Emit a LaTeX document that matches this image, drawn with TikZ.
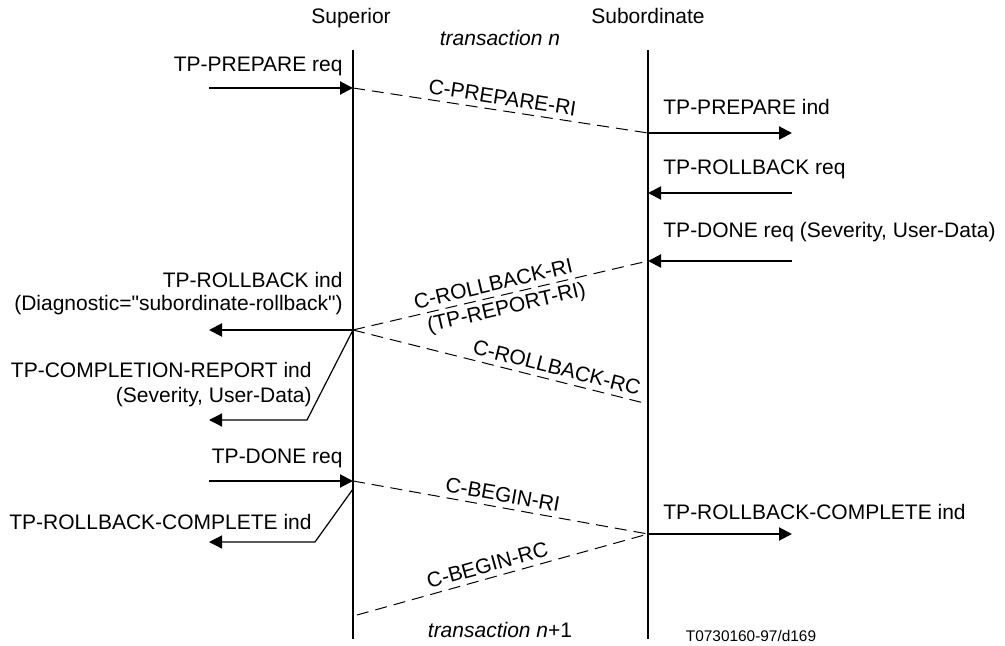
\documentclass[tikz,border=0pt]{standalone}
\usepackage{fontspec}
\newfontfamily\arialf{Liberation Sans}
\usetikzlibrary{arrows.meta}
\begin{document}
\begin{tikzpicture}[x=0.5pt,y=0.5pt,
  lbl/.style={font=\arialf\fontsize{10.5}{12.6}\selectfont, inner sep=0pt},
  small/.style={font=\arialf\fontsize{7.7}{9}\selectfont, inner sep=0pt},
  lifeline/.style={line width=1pt},
  prim/.style={line width=1pt, -{Triangle[length=6.5pt,width=6.5pt]}},
  bent/.style={line width=0.6pt, -{Triangle[length=6.5pt,width=6.5pt]}},
  pdu/.style={line width=0.5pt, dash pattern=on 6pt off 3.5pt},
  pdulbl/.style={lbl, sloped, inner sep=2.6pt}]
\useasboundingbox (0,0) rectangle (1005,-646);
% lifelines
\coordinate (supT) at (353,-50);
\coordinate (supB) at (353,-639);
\coordinate (subT) at (648,-50);
\coordinate (subB) at (648,-639);
\draw[lifeline] (supT) -- (supB);
\draw[lifeline] (subT) -- (subB);
\node[lbl, anchor=base] (supL) at (351,-24) {Superior};
\node[lbl, anchor=base] (subL) at (648,-24) {Subordinate};
\node[lbl, anchor=base] (tn) at (500,-46) {\textit{transaction n}};
\node[lbl, anchor=base] (tn1) at (500,-637) {\textit{transaction n}+1};
\node[small, anchor=base] (ref) at (751,-641) {T0730160-97/d169};

% points on lifelines
\coordinate (s1) at (353,-88);
\coordinate (s2) at (353,-330);
\coordinate (s3) at (353,-481);
\coordinate (s4) at (353,-489);
\coordinate (s5) at (357,-615);
\coordinate (b1) at (648,-133);
\coordinate (b2) at (648,-193);
\coordinate (b3) at (648,-261);
\coordinate (b4) at (648,-404);
\coordinate (b5) at (648,-534);

% free ends
\coordinate (prepS) at (209,-88);
\coordinate (prepE) at (792,-133);
\coordinate (rbS) at (792,-193);
\coordinate (doneS) at (792,-261);
\coordinate (rbiE) at (209,-330);
\coordinate (k1) at (307,-420);
\coordinate (crE) at (209,-420);
\coordinate (dS) at (209,-481);
\coordinate (k2) at (315,-542);
\coordinate (rcE) at (209,-542);
\coordinate (rcsE) at (792,-534);

% TP-PREPARE
\draw[prim] (prepS) -- (s1);
\node[lbl, anchor=base east] (tpprepreq) at (343,-72) {TP-PREPARE req};
\draw[pdu] (s1) -- node[pdulbl, above, pos=0.5] (cprep) {C-PREPARE-RI} (b1);
\draw[prim] (b1) -- (prepE);
\node[lbl, anchor=base west] (tpprepind) at (663,-115) {TP-PREPARE ind};

% TP-ROLLBACK req
\draw[prim] (rbS) -- (b2);
\node[lbl, anchor=base west] (tprbreq) at (663,-175) {TP-ROLLBACK req};

% TP-DONE req (subordinate)
\draw[prim] (doneS) -- (b3);
\node[lbl, anchor=base west] (tpdonesub) at (663,-238) {TP-DONE req (Severity, User-Data)};

% C-ROLLBACK-RI / RC
\draw[pdu] (s2) -- node[pdulbl, above, pos=0.485] (crbri) {C-ROLLBACK-RI}
                  node[pdulbl, below, pos=0.51, inner sep=2pt] (tprepri) {(TP-REPORT-RI)} (b3);
\draw[pdu] (s2) -- node[pdulbl, above, pos=0.68] (crbrc) {C-ROLLBACK-RC} (b4);

% TP-ROLLBACK ind
\draw[prim] (s2) -- (rbiE);
\node[lbl, anchor=base east] (tprbind) at (343,-288) {TP-ROLLBACK ind};
\node[lbl, anchor=base east] (diag) at (343,-311) {(Diagnostic="subordinate-rollback")};

% TP-COMPLETION-REPORT ind
\draw[bent] (s2) -- (k1) -- (crE);
\node[lbl, anchor=base east] (tpcr) at (312,-377) {TP-COMPLETION-REPORT ind};
\node[lbl, anchor=base east] (sev) at (312,-402) {(Severity, User-Data)};

% TP-DONE req (superior)
\draw[prim] (dS) -- (s3);
\node[lbl, anchor=base east] (tpdonesup) at (343,-463) {TP-DONE req};

% TP-ROLLBACK-COMPLETE ind (superior)
\draw[bent] (s4) -- (k2) -- (rcE);
\node[lbl, anchor=base east] (tprcsup) at (312,-529) {TP-ROLLBACK-COMPLETE ind};

% C-BEGIN
\draw[pdu] (s3) -- node[pdulbl, above, pos=0.5] (cbri) {C-BEGIN-RI} (b5);
\draw[pdu] (s5) -- node[pdulbl, above, pos=0.46] (cbrc) {C-BEGIN-RC} (b5);

% TP-ROLLBACK-COMPLETE ind (subordinate)
\draw[prim] (b5) -- (rcsE);
\node[lbl, anchor=base west] (tprcsub) at (663,-519) {TP-ROLLBACK-COMPLETE ind};
\end{tikzpicture}
\end{document}
